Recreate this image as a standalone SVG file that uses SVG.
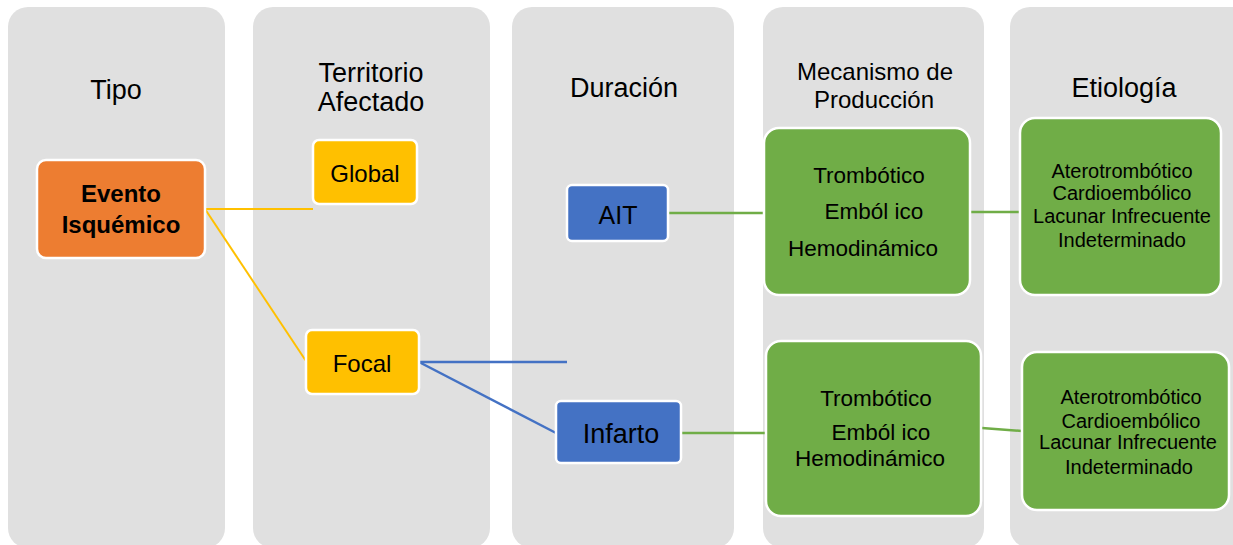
<svg xmlns="http://www.w3.org/2000/svg" width="1233" height="545" viewBox="0 0 1233 545">
<style>
.col{fill:#E0E0E0}
.hd{font-family:"Liberation Sans",Arial,sans-serif;font-size:27px;fill:#000;text-anchor:middle}
.hd2{font-family:"Liberation Sans",Arial,sans-serif;font-size:24px;fill:#000;text-anchor:middle}
.nd{stroke:#fff;stroke-width:2.5}
.t{font-family:"Liberation Sans",Arial,sans-serif;fill:#000;text-anchor:middle}
.b{font-family:"Liberation Sans",Arial,sans-serif;font-weight:bold;font-size:24px;fill:#000;text-anchor:middle}
.m{font-family:"Liberation Sans",Arial,sans-serif;font-size:22.5px;fill:#000;text-anchor:middle}
.e{font-family:"Liberation Sans",Arial,sans-serif;font-size:20px;fill:#000;text-anchor:middle}
.cy{stroke:#FFC000;stroke-width:2;fill:none}
.cb{stroke:#4472C4;stroke-width:2.5;fill:none}
.cg{stroke:#70AD47;stroke-width:2.5;fill:none}
</style>
<rect width="1233" height="545" fill="#fff"/>
<g id="columns">
<rect class="col" x="8" y="7" width="217" height="541" rx="20"/>
<rect class="col" x="253" y="7" width="237" height="541" rx="20"/>
<rect class="col" x="512" y="7" width="222" height="541" rx="20"/>
<rect class="col" x="763" y="7" width="221" height="541" rx="20"/>
<rect class="col" x="1010" y="7" width="243" height="541" rx="20"/>
<text class="hd" x="116" y="99">Tipo</text>
<text class="hd" x="371" y="82">Territorio</text>
<text class="hd" x="371" y="111">Afectado</text>
<text class="hd" x="624" y="97">Duración</text>
<text class="hd2" x="875" y="80">Mecanismo de</text>
<text class="hd2" x="874" y="108">Producción</text>
<text class="hd" x="1124" y="97">Etiología</text>
</g>
<g id="connectors">
<line class="cy" x1="205" y1="209" x2="313" y2="209"/>
<line class="cy" x1="205" y1="209" x2="306" y2="361"/>
<line class="cb" x1="419" y1="362" x2="567" y2="362"/>
<line class="cb" x1="419" y1="362" x2="556" y2="433"/>
<line class="cg" x1="668" y1="213" x2="764" y2="213"/>
<line class="cg" x1="970" y1="212" x2="1020" y2="212"/>
<line class="cg" x1="681" y1="433" x2="766" y2="433"/>
<line class="cg" x1="982" y1="428" x2="1022" y2="431"/>
</g>
<g id="evento">
<rect class="nd" x="37" y="160" width="168" height="98" rx="9" fill="#ED7D31"/>
<text class="b" x="121" y="202">Evento</text>
<text class="b" x="121" y="233">Isquémico</text>
</g>
<g id="global">
<rect class="nd" x="313" y="140" width="104" height="64" rx="6" fill="#FFC000"/>
<text class="t" x="365" y="182" font-size="24">Global</text>
</g>
<g id="focal">
<rect class="nd" x="306" y="330" width="113" height="64" rx="6" fill="#FFC000"/>
<text class="t" x="362" y="372" font-size="24">Focal</text>
</g>
<g id="ait">
<rect class="nd" x="567" y="185" width="101" height="56" rx="5" fill="#4472C4"/>
<text class="t" x="618" y="224" font-size="25">AIT</text>
</g>
<g id="infarto">
<rect class="nd" x="556" y="401" width="125" height="62" rx="5" fill="#4472C4"/>
<text class="t" x="621" y="443" font-size="27">Infarto</text>
</g>
<g id="mecanismo-ait">
<rect class="nd" x="764" y="128" width="206" height="167" rx="15" fill="#70AD47"/>
<text class="m" x="869" y="183">Trombótico</text>
<text class="m" x="874" y="219">Emból ico</text>
<text class="m" x="863" y="256">Hemodinámico</text>
</g>
<g id="etiologia-ait">
<rect class="nd" x="1020" y="118" width="201" height="177" rx="15" fill="#70AD47"/>
<text class="e" x="1122" y="178">Aterotrombótico</text>
<text class="e" x="1122" y="200">Cardioembólico</text>
<text class="e" x="1122" y="223">Lacunar Infrecuente</text>
<text class="e" x="1122" y="247">Indeterminado</text>
</g>
<g id="mecanismo-infarto">
<rect class="nd" x="766" y="341" width="215" height="175" rx="15" fill="#70AD47"/>
<text class="m" x="876" y="406">Trombótico</text>
<text class="m" x="881" y="440">Emból ico</text>
<text class="m" x="870" y="466">Hemodinámico</text>
</g>
<g id="etiologia-infarto">
<rect class="nd" x="1022" y="352" width="207" height="158" rx="15" fill="#70AD47"/>
<text class="e" x="1131" y="404">Aterotrombótico</text>
<text class="e" x="1131" y="428">Cardioembólico</text>
<text class="e" x="1128" y="449">Lacunar Infrecuente</text>
<text class="e" x="1129" y="474">Indeterminado</text>
</g>
</svg>
